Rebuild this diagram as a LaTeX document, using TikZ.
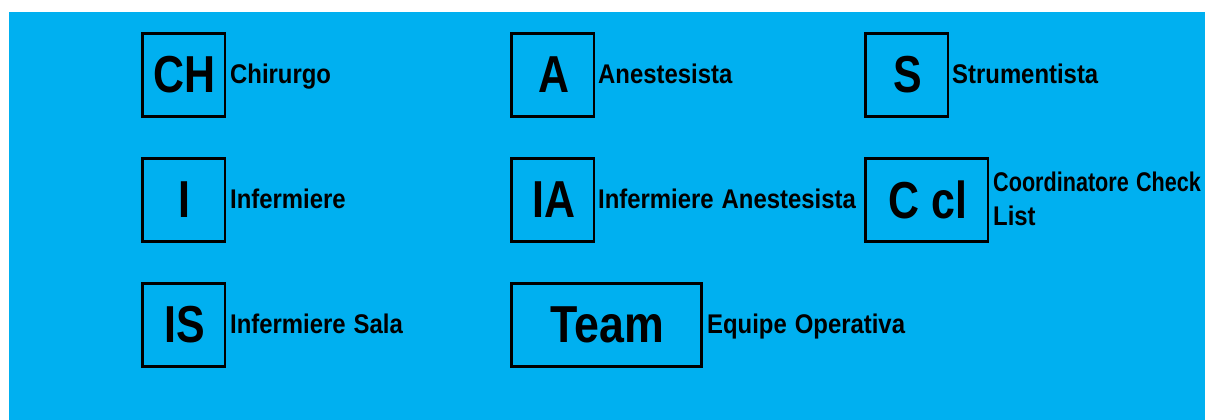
\documentclass[tikz,border=0pt]{standalone}
\usepackage{fontspec}
\setmainfont[BoldFont={Liberation Sans Bold}]{Liberation Sans}
\newfontfamily\bigf[FakeStretch=0.825]{Liberation Sans Bold}
\newfontfamily\teamf[FakeStretch=0.86]{Liberation Sans Bold}
\newfontfamily\smallf[FakeStretch=0.885,WordSpace=1.2]{Liberation Sans Bold}
\newfontfamily\tightf[FakeStretch=0.80,WordSpace=1.2]{Liberation Sans Bold}
\definecolor{panelblue}{HTML}{00B0F0}
\tikzset{
  x=1pt,y=-1pt,
  keybox/.style={draw=black,line width=2.6pt,inner sep=0pt,outer sep=0pt,minimum height=83.4pt,minimum width=82.6pt,anchor=north west,font=\bigf\fontsize{52}{52}\selectfont,text=black},
  keytext/.style={inner sep=0pt,anchor=base west,font=\smallf\fontsize{27}{34}\selectfont,text=black,align=left}
}
\newcommand{\nudged}[1]{\hspace*{2pt}#1}
\begin{document}
\begin{tikzpicture}
\useasboundingbox (0,0) rectangle (1205,420);
\fill[panelblue] (9,12) rectangle (1205,420);
\node[keybox] (ch) at (142.3,33.3) {\nudged{CH}};
\node[keybox] (a) at (511.3,33.3) {\nudged{A}};
\node[keybox] (s) at (865.3,33.3) {\nudged{S}};
\node[keybox] (i) at (142.3,158.3) {\nudged{I}};
\node[keybox] (ia) at (511.3,158.3) {\nudged{IA}};
\node[keybox,minimum width=122.7pt] (ccl) at (865.3,158.3) {\nudged{C cl}};
\node[keybox] (is) at (142.3,283.3) {\nudged{IS}};
\node[keybox,minimum width=190.4pt,font=\teamf\fontsize{52}{52}\selectfont] (team) at (511.3,283.3) {\nudged{Team}};
\node[keytext] (tch) at (230,83.5) {Chirurgo};
\node[keytext] (ta) at (598,83.5) {Anestesista};
\node[keytext] (ts) at (952,83.5) {Strumentista};
\node[keytext] (ti) at (230,208.5) {Infermiere};
\node[keytext] (tia) at (598,208.5) {Infermiere Anestesista};
\node[keytext,font=\tightf\fontsize{27}{34}\selectfont] (tc1) at (993,191.5) {Coordinatore Check};
\node[keytext] (tc2) at (993,225.5) {List};
\node[keytext] (tis) at (230,333.5) {Infermiere Sala};
\node[keytext] (tteam) at (707,333.5) {Equipe Operativa};
\end{tikzpicture}
\end{document}
